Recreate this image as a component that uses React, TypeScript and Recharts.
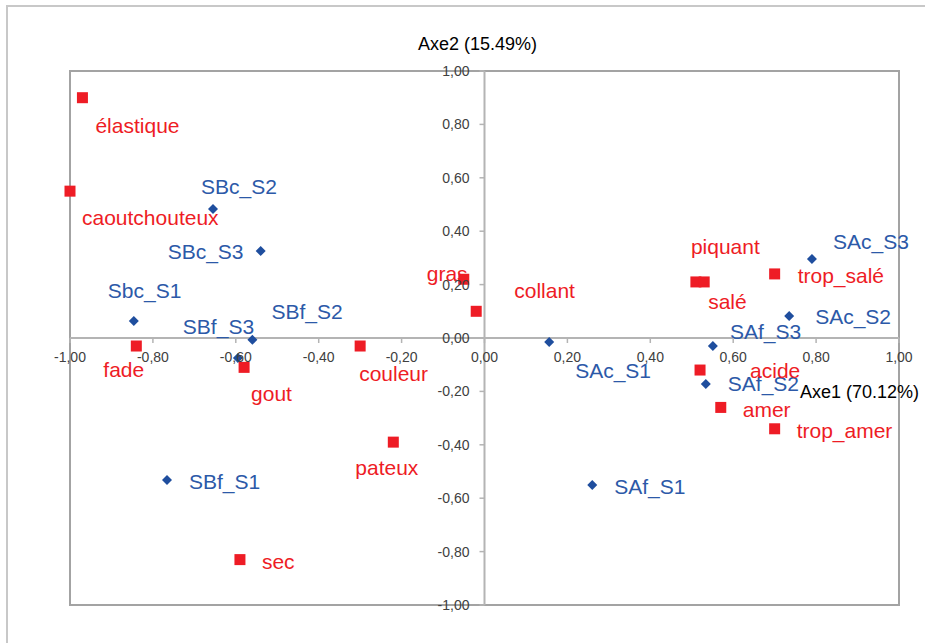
import React from 'react';
import {
  ScatterChart,
  Scatter,
  XAxis,
  YAxis,
  ReferenceLine,
  ReferenceArea,
  Label,
} from 'recharts';

// Sensory attributes (red squares)
const attrNames = [
  'élastique', 'caoutchouteux', 'fade', 'gout', 'couleur', 'gras', 'collant', 'pateux',
  'sec', 'piquant', 'salé', 'trop_salé', 'acide', 'amer', 'trop_amer',
];
const attrAxe1 = [-0.97, -1.0, -0.84, -0.58, -0.3, -0.05, -0.02, -0.22, -0.59, 0.51, 0.53, 0.7, 0.52, 0.57, 0.7];
const attrAxe2 = [0.9, 0.55, -0.03, -0.11, -0.03, 0.22, 0.1, -0.39, -0.83, 0.21, 0.21, 0.24, -0.12, -0.26, -0.34];

// Samples (blue diamonds)
const sampleNames = [
  'SBc_S2', 'SBc_S3', 'Sbc_S1', 'SBf_S2', 'SBf_S3', 'SBf_S1',
  'SAf_S1', 'SAc_S1', 'SAc_S3', 'SAc_S2', 'SAf_S3', 'SAf_S2',
];
const sampleAxe1 = [-0.655, -0.54, -0.846, -0.56, -0.595, -0.766, 0.26, 0.156, 0.79, 0.735, 0.551, 0.534];
const sampleAxe2 = [0.483, 0.326, 0.064, -0.007, -0.075, -0.532, -0.551, -0.015, 0.296, 0.082, -0.03, -0.172];

const axisTicks = [-1, -0.8, -0.6, -0.4, -0.2, 0, 0.2, 0.4, 0.6, 0.8, 1];

// label placement: [dx to text start, dy to text middle]
const labelOffsets: Record<string, [number, number]> = {
  'élastique': [13, 28],
  caoutchouteux: [12, 26],
  fade: [-33, 23],
  gout: [7, 26],
  couleur: [-1, 27],
  gras: [-37, -6],
  collant: [38, -21],
  pateux: [-38, 25],
  sec: [22, 2],
  piquant: [-5, -35],
  'salé': [4, 20],
  'trop_salé': [23, 2],
  acide: [50, 0],
  amer: [22, 2],
  trop_amer: [22, 2],
  SBc_S2: [-12, -23],
  SBc_S3: [-93, 1],
  Sbc_S1: [-26, -30],
  SBf_S2: [19, -28],
  SBf_S3: [-55, -32],
  SBf_S1: [22, 1],
  SAf_S1: [22, 1],
  SAc_S1: [26, 28],
  SAc_S3: [21, -17],
  SAc_S2: [26, 0],
  SAf_S3: [17, -15],
  SAf_S2: [22, 0],
};

const attributes = attrNames.map((name, i) => ({ name, x: attrAxe1[i], y: attrAxe2[i] }));
const samples = sampleNames.map((name, i) => ({ name, x: sampleAxe1[i], y: sampleAxe2[i] }));

const W = 925;
const H = 643;
const AXIS_SIZE = 30;
// outer margins minus the room taken by the (relocated) axes
const MARGIN = { top: 71, left: 70 - AXIS_SIZE, right: 26, bottom: 38 - AXIS_SIZE };
const PLOT_LEFT = 70;
const PLOT_TOP = 71;
const PLOT_W = W - PLOT_LEFT - 26;
const PLOT_H = H - PLOT_TOP - 38;
// axes cross at the origin, which sits in the middle of the plot
const ZERO_X = PLOT_LEFT + PLOT_W / 2;
const ZERO_Y = PLOT_TOP + PLOT_H / 2;

const RED = '#EE1C25';
const BLUE_TEXT = '#2C59A8';
const BLUE_MARK = '#1F4E9E';
const AXIS_GRAY = '#B4B4B4';
const TICK_TEXT = '#404040';
const FONT = '"Liberation Sans", Arial, sans-serif';

const fmt = (v: number) => v.toFixed(2).replace('.', ',');

const XTick = ({ x, payload }: any) => (
  <g>
    <line x1={x} x2={x} y1={ZERO_Y} y2={ZERO_Y + 5} stroke={AXIS_GRAY} strokeWidth={1.5} />
    <text
      x={x}
      y={ZERO_Y + 19}
      textAnchor="middle"
      dominantBaseline="central"
      fontSize={14}
      fontFamily={FONT}
      fill={TICK_TEXT}
    >
      {fmt(payload.value)}
    </text>
  </g>
);

const YTick = ({ y, payload }: any) => (
  <g>
    <line x1={ZERO_X - 5} x2={ZERO_X} y1={y} y2={y} stroke={AXIS_GRAY} strokeWidth={1.5} />
    <text
      x={ZERO_X - 15}
      y={y}
      textAnchor="end"
      dominantBaseline="central"
      fontSize={14}
      fontFamily={FONT}
      fill={TICK_TEXT}
    >
      {fmt(payload.value)}
    </text>
  </g>
);

const PointLabel = ({ cx, cy, name, color }: any) => {
  const [dx, dy] = labelOffsets[name] || [20, 0];
  return (
    <text
      x={cx + dx}
      y={cy + dy}
      dominantBaseline="central"
      fontSize={21}
      fontFamily={FONT}
      fill={color}
    >
      {name}
    </text>
  );
};

const SquareMark = (props: any) => {
  const { cx, cy, payload } = props;
  return (
    <g>
      <rect x={cx - 5.5} y={cy - 5.5} width={11} height={11} fill={RED} />
      <PointLabel cx={cx} cy={cy} name={payload.name} color={RED} />
    </g>
  );
};

const DiamondMark = (props: any) => {
  const { cx, cy, payload } = props;
  const r = 5;
  return (
    <g>
      <path d={`M${cx},${cy - r} L${cx + r},${cy} L${cx},${cy + r} L${cx - r},${cy} Z`} fill={BLUE_MARK} />
      <PointLabel cx={cx} cy={cy} name={payload.name} color={BLUE_TEXT} />
    </g>
  );
};

export default function App() {
  return (
    <div style={{ position: 'absolute', left: 0, top: 0, width: W, height: H, background: '#fff', overflow: 'hidden' }}>
      {/* outer chart frame */}
      <div
        style={{
          position: 'absolute',
          left: 6,
          top: 5,
          width: W,
          height: H,
          border: '2px solid #C8C8C8',
          boxSizing: 'border-box',
        }}
      />
      <div style={{ position: 'absolute', left: 0, top: 0 }}>
        <ScatterChart width={W} height={H} margin={MARGIN}>
          <XAxis
            type="number"
            dataKey="x"
            domain={[-1, 1]}
            ticks={axisTicks}
            interval={0}
            axisLine={false}
            tickLine={false}
            height={AXIS_SIZE}
            tick={(p: any) => <XTick {...p} />}
          />
          <YAxis
            type="number"
            dataKey="y"
            domain={[-1, 1]}
            ticks={axisTicks}
            interval={0}
            axisLine={false}
            tickLine={false}
            width={AXIS_SIZE}
            tick={(p: any) => <YTick {...p} />}
          />
          <ReferenceArea x1={-1} x2={1} y1={-1} y2={1} fill="none" stroke="#A3A3A3" strokeWidth={2} />
          <ReferenceLine x={0} stroke={AXIS_GRAY} strokeWidth={2}>
            <Label
              content={(p: any) => (
                <text
                  x={p.viewBox.x - 7}
                  y={p.viewBox.y - 27}
                  textAnchor="middle"
                  dominantBaseline="central"
                  fontSize={18}
                  fontFamily={FONT}
                  fill="#000"
                >
                  Axe2 (15.49%)
                </text>
              )}
            />
          </ReferenceLine>
          <ReferenceLine y={0} stroke={AXIS_GRAY} strokeWidth={2}>
            <Label
              content={(p: any) => (
                <text
                  x={p.viewBox.x + p.viewBox.width - 99}
                  y={p.viewBox.y + 54}
                  dominantBaseline="central"
                  fontSize={18}
                  fontFamily={FONT}
                  fill="#000"
                >
                  Axe1 (70.12%)
                </text>
              )}
            />
          </ReferenceLine>
          <Scatter data={samples} shape={(p: any) => <DiamondMark {...p} />} isAnimationActive={false} />
          <Scatter data={attributes} shape={(p: any) => <SquareMark {...p} />} isAnimationActive={false} />
        </ScatterChart>
      </div>
    </div>
  );
}
